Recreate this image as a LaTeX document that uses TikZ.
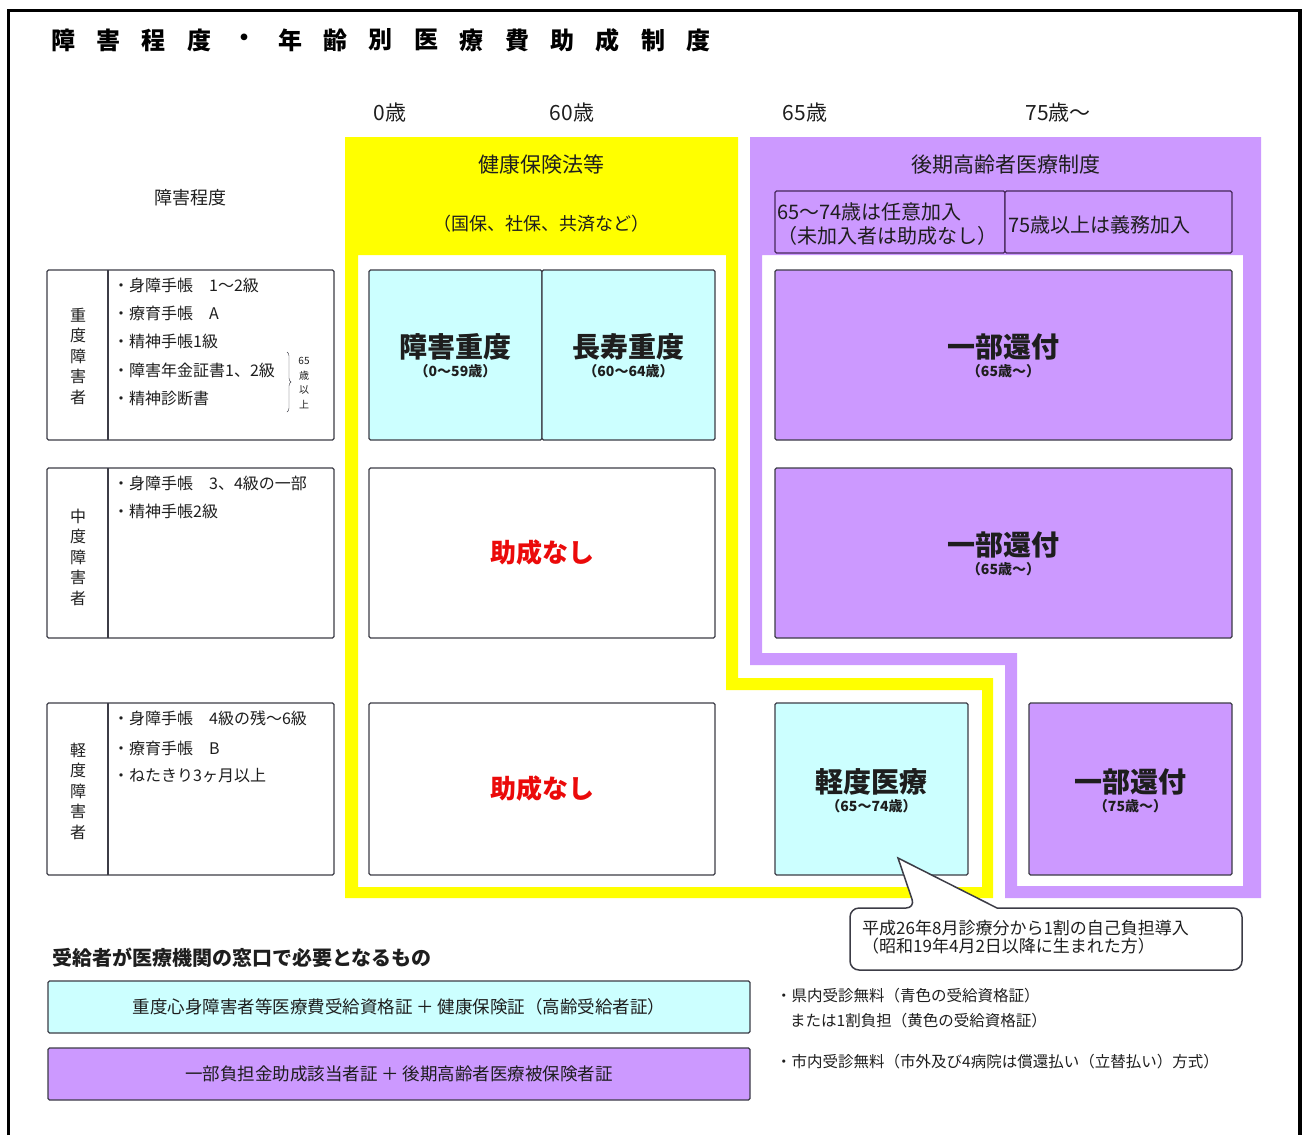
\documentclass[tikz,border=0pt]{standalone}
\usepackage{fontspec}
\setmainfont{Noto Sans CJK JP}
\usepackage{xcolor}
\usepackage{tikz}
\usetikzlibrary{positioning, decorations.pathreplacing}

\definecolor{kyellow}{RGB}{255,255,0}
\definecolor{kpurple}{RGB}{204,153,255}
\definecolor{kcyan}{RGB}{204,255,255}
\definecolor{kred}{RGB}{235,10,10}
\definecolor{ink}{RGB}{30,30,30}
\definecolor{edge}{RGB}{60,60,70}
\definecolor{pedge}{RGB}{70,40,90}

\newcommand{\fs}[1]{\fontsize{#1}{#1}\selectfont}

\begin{document}
\begin{tikzpicture}[
    x=1pt, y=-1pt,
    box/.style={
        rectangle, draw=edge, line width=1.3pt, rounded corners=1.5pt,
        fill=#1, inner sep=0pt
    },
    big/.style={font=\fs{28}\bfseries, text=ink, inner sep=1pt},
    sub/.style={font=\fs{14}\bfseries, text=ink, inner sep=1pt},
    none/.style={font=\fs{26}\bfseries, text=kred},
    item/.style={anchor=west, font=\fs{16}, text=ink, inner sep=0pt},
    vert/.style={align=center, font=\fontsize{16}{20.5}\selectfont, text=ink},
    head/.style={font=\fs{21}, text=ink},
    note/.style={anchor=west, font=\fs{15.5}, text=ink, inner sep=0pt},
    titlechar/.style={font=\fs{24}\bfseries, text=black}
]
\useasboundingbox (0,0) rectangle (1308,1135);

% Outer frame
\draw[line width=3.5pt] (8.5,1135) -- (8.5,10.5) -- (1300,10.5) -- (1300,1135);

% Title
\foreach \c [count=\i from 0] in {障,害,程,度,・,年,齢,別,医,療,費,助,成,制,度}
    \node[titlechar] (t\i) at (63+45.4*\i, 40) {\c};

% Age labels
\node[head] (a0) at (390,113) {0歳};
\node[head] (a60) at (572,113) {60歳};
\node[head] (a65) at (805,113) {65歳};
\node[head] (a75) at (1058,113) {75歳～};

% Yellow and purple bands
\fill[kyellow, even odd rule]
    (345,137) -- (738,137) -- (738,678) -- (993,678) -- (993,898) -- (345,898) -- cycle
    (358,255) -- (726,255) -- (726,690) -- (982,690) -- (982,887) -- (358,887) -- cycle;
\fill[kpurple, even odd rule]
    (750,137) -- (1261,137) -- (1261,898) -- (1005,898) -- (1005,665) -- (750,665) -- cycle
    (762,255) -- (1243,255) -- (1243,886) -- (1017,886) -- (1017,653) -- (762,653) -- cycle;

% Band headers
\node[head] (kenpo) at (541,165) {健康保険法等};
\node[font=\fs{18}, text=ink] (kenpo2) at (541,224) {（国保、社保、共済など）};
\node[head] (koki) at (1006,165) {後期高齢者医療制度};
\node[box=kpurple, draw=pedge, minimum width=230, minimum height=62] (nini) at (890,222) {};
\node[box=kpurple, draw=pedge, minimum width=227, minimum height=62] (gimu) at (1118.5,222) {};
\node[anchor=west, align=left, font=\fontsize{20}{24}\selectfont, text=ink, inner sep=0pt]
    (ninit) at (777,224) {65～74歳は任意加入\\（未加入者は助成なし）};
\node[anchor=west, font=\fs{20}, text=ink, inner sep=0pt] (gimut) at (1008,225) {75歳以上は義務加入};

% Left column
\node[font=\fs{18}, text=ink] (teido) at (190,198) {障害程度};

\node[box=white, minimum width=287, minimum height=170] (r1) at (190.5,355) {};
\node[box=white, minimum width=287, minimum height=170] (r2) at (190.5,553) {};
\node[box=white, minimum width=287, minimum height=172] (r3) at (190.5,789) {};
\draw[edge, line width=1.3pt] (108,270) -- (108,440);
\draw[edge, line width=1.3pt] (108,468) -- (108,638);
\draw[edge, line width=1.3pt] (108,703) -- (108,875);

\node[vert] (v1) at (78,356) {重\\度\\障\\害\\者};
\node[vert] (v2) at (78,557) {中\\度\\障\\害\\者};
\node[vert] (v3) at (78,791) {軽\\度\\障\\害\\者};

\node[item] (i11) at (113,285) {・身障手帳　1～2級};
\node[item] (i12) at (113,313) {・療育手帳　A};
\node[item] (i13) at (113,341) {・精神手帳1級};
\node[item] (i14) at (113,370) {・障害年金証書1、2級};
\node[item] (i15) at (113,398) {・精神診断書};
\draw[edge, decorate, decoration={brace, amplitude=4pt}] (287,352) -- (287,412);
\node[align=center, font=\fontsize{10}{14.5}\selectfont, text=ink] (over65) at (304,383) {65\\歳\\以\\上};

\node[item] (i21) at (113,483) {・身障手帳　3、4級の一部};
\node[item] (i22) at (113,511) {・精神手帳2級};

\node[item] (i31) at (113,718) {・身障手帳　4級の残～6級};
\node[item] (i32) at (113,748) {・療育手帳　B};
\node[item] (i33) at (113,776) {・ねたきり3ヶ月以上};

% Row 1
\node[box=kcyan, minimum width=173, minimum height=170] (jd) at (455.5,355) {};
\node[box=kcyan, minimum width=173, minimum height=170] (cd) at (628.5,355) {};
\node[box=kpurple, minimum width=457, minimum height=170] (ib1) at (1003.5,355) {};
\node[big] (jdt) at (455.5,347) {障害重度};
\node[sub, below=2pt of jdt] {（0～59歳）};
\node[big] (cdt) at (628.5,347) {長寿重度};
\node[sub, below=2pt of cdt] {（60～64歳）};
\node[big] (ib1t) at (1003.5,347) {一部還付};
\node[sub, below=2pt of ib1t] {（65歳～）};

% Row 2
\node[box=white, minimum width=346, minimum height=170] (nh2) at (542,553) {};
\node[none] at (nh2) {助成なし};
\node[box=kpurple, minimum width=457, minimum height=170] (ib2) at (1003.5,553) {};
\node[big] (ib2t) at (1003.5,545) {一部還付};
\node[sub, below=2pt of ib2t] {（65歳～）};

% Row 3
\node[box=white, minimum width=346, minimum height=172] (nh3) at (542,789) {};
\node[none] at (nh3) {助成なし};
\node[box=kcyan, minimum width=193, minimum height=172] (kd) at (871.5,789) {};
\node[big] (kdt) at (871.5,782) {軽度医療};
\node[sub, below=2pt of kdt] {（65～74歳）};
\node[box=kpurple, minimum width=203, minimum height=172] (ib3) at (1130.5,789) {};
\node[big] (ib3t) at (1130.5,782) {一部還付};
\node[sub, below=2pt of ib3t] {（75歳～）};

% Callout
\draw[fill=white, line width=1.5pt, draw=edge]
    (898,858) -- (997,908) [rounded corners=9pt] -- (1242,908) -- (1242,970)
    -- (850,970) -- (850,908) -- (915,908) [sharp corners] -- cycle;
\node[anchor=west, align=left, font=\fontsize{17}{18}\selectfont, text=ink, inner sep=0pt]
    (callt) at (862,937) {平成26年8月診療分から1割の自己負担導入\\（昭和19年4月2日以降に生まれた方）};

% Bottom legend
\node[anchor=west, font=\fs{20}\bfseries, text=ink, inner sep=0pt] (need) at (52,958)
    {受給者が医療機関の窓口で必要となるもの};
\node[box=kcyan, minimum width=702, minimum height=52, font=\fs{17.5}, text=ink] (card1) at (399,1007)
    {重度心身障害者等医療費受給資格証\ ＋\ 健康保険証（高齢受給者証）};
\node[box=kpurple, minimum width=702, minimum height=52, font=\fs{17.5}, text=ink] (card2) at (399,1074)
    {一部負担金助成該当者証\ ＋\ 後期高齢者医療被保険者証};

\node[note] (n1) at (776,996) {・県内受診無料（青色の受給資格証）};
\node[note] (n2) at (790,1021) {または1割負担（黄色の受給資格証）};
\node[note] (n3) at (776,1062) {・市内受診無料（市外及び4病院は償還払い（立替払い）方式）};

\end{tikzpicture}
\end{document}
